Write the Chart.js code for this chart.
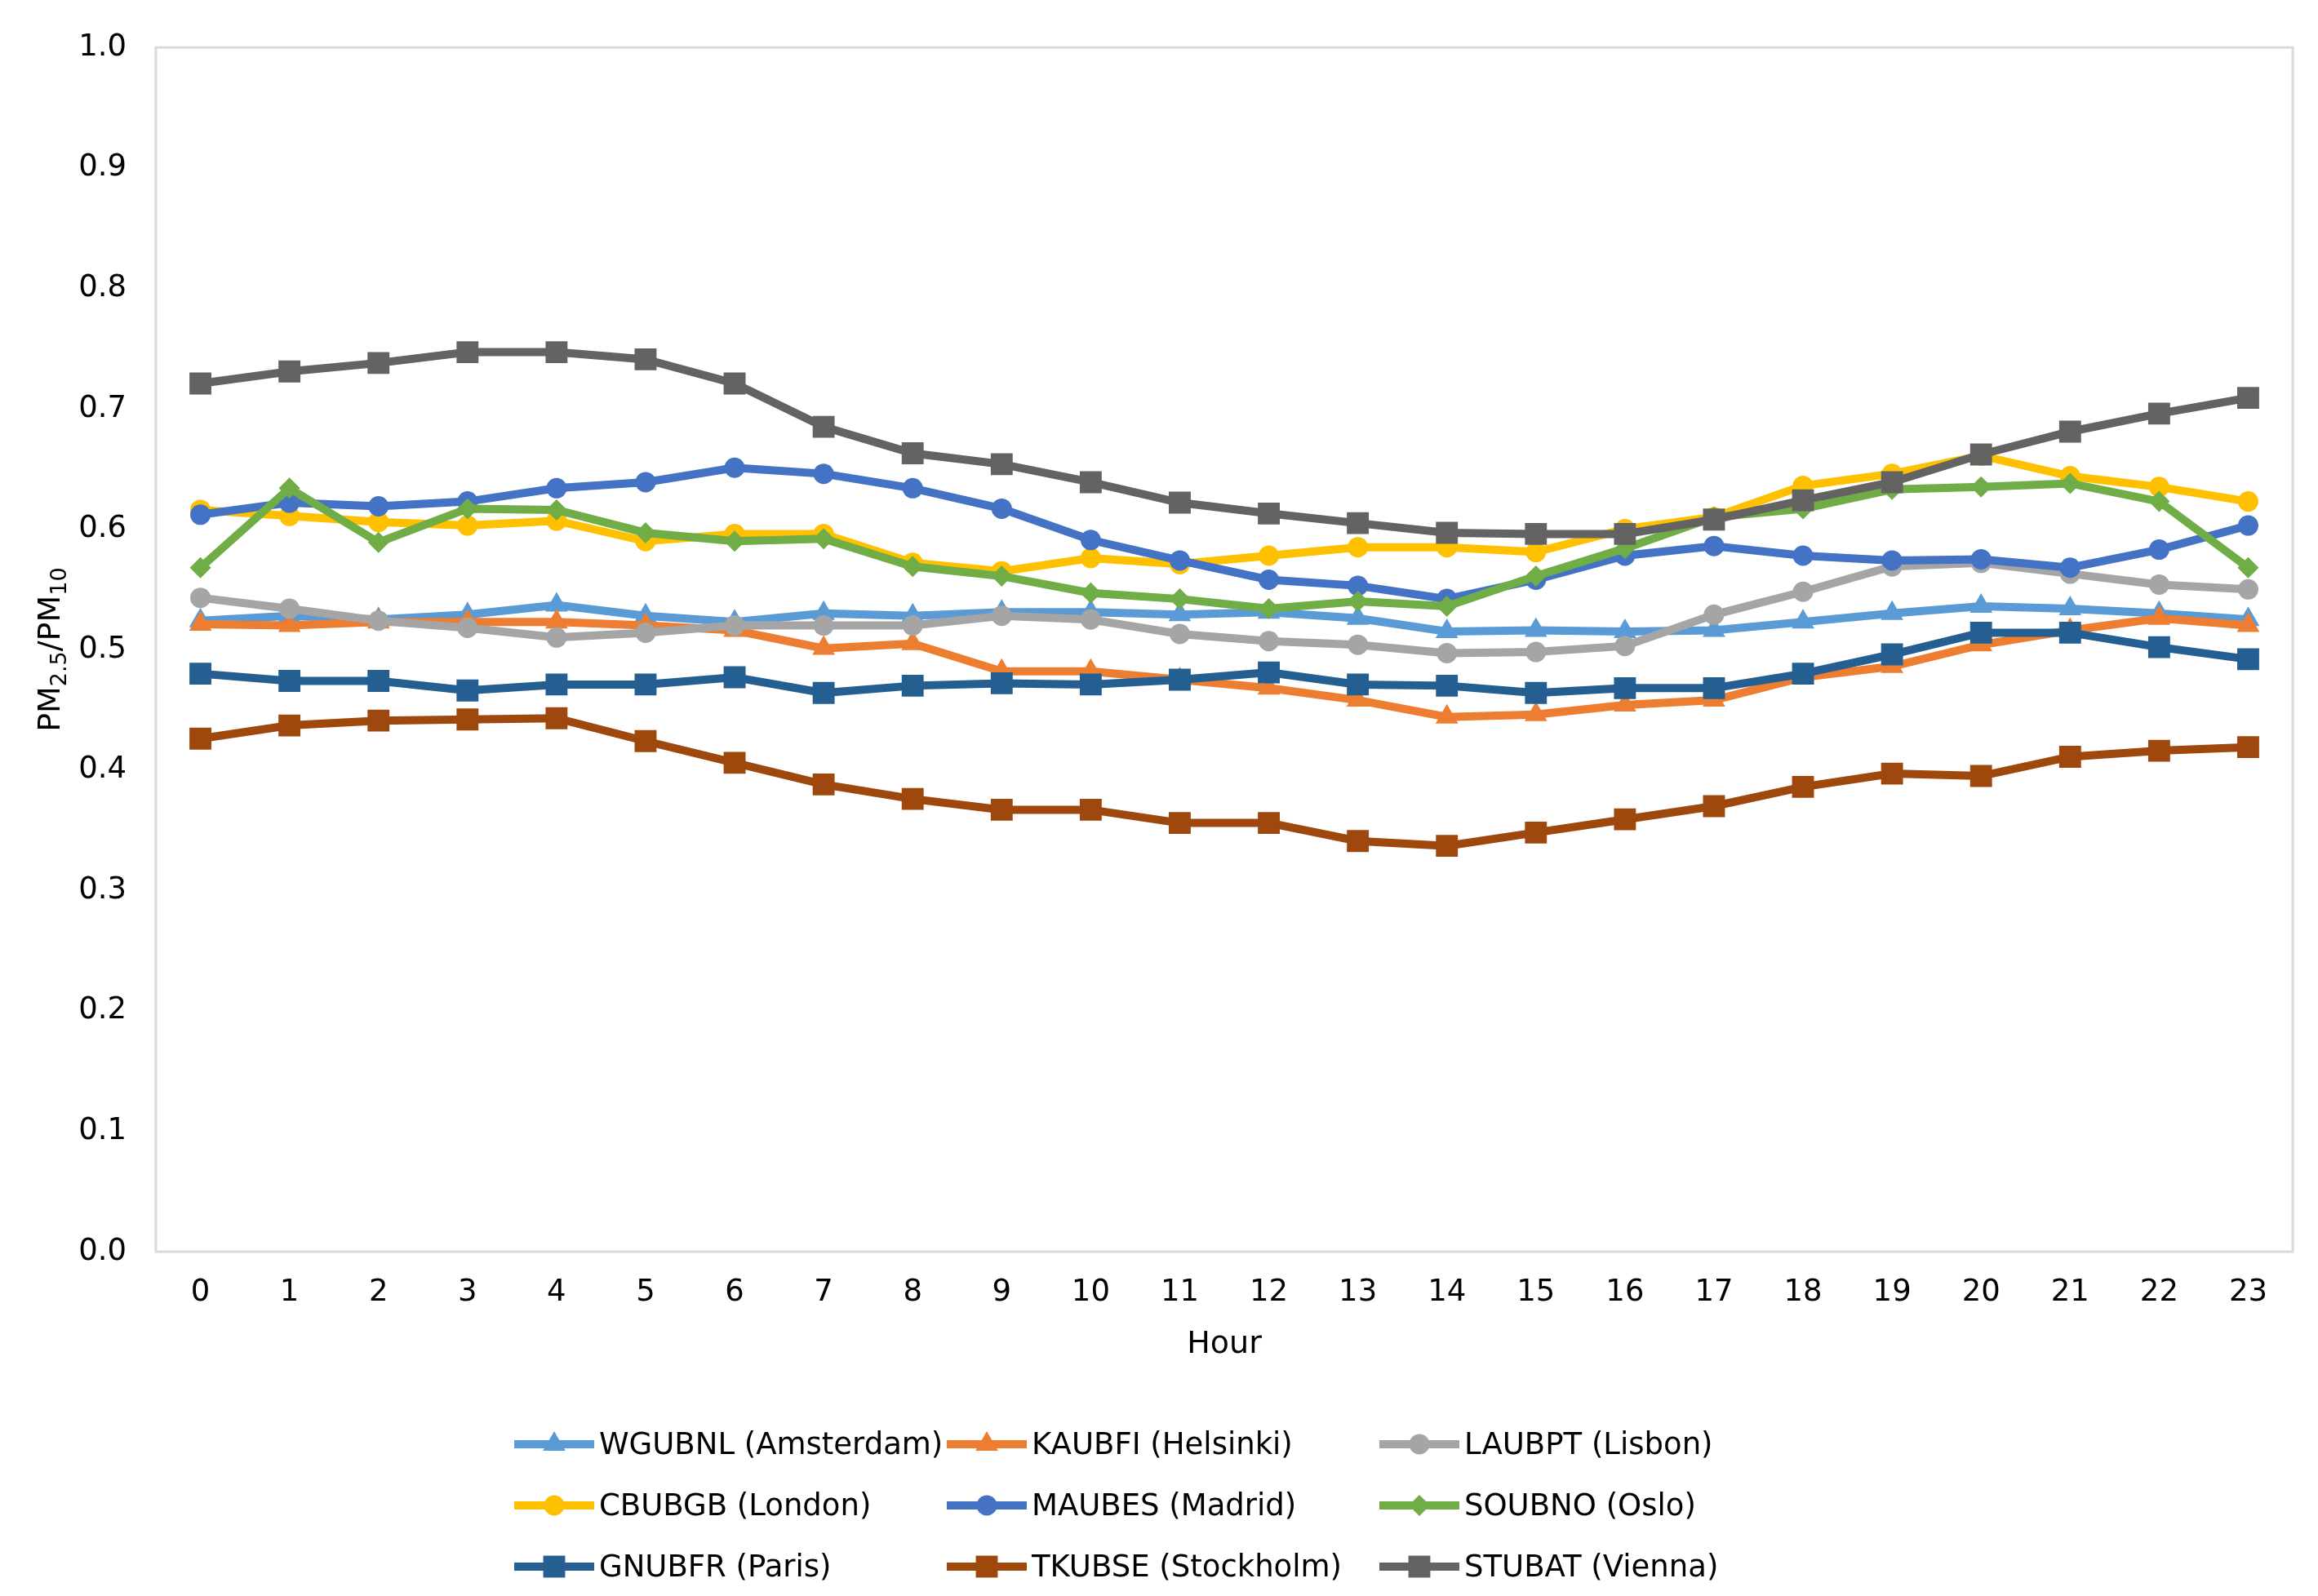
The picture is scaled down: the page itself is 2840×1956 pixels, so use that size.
<!DOCTYPE html>
<html>
<head>
<meta charset="utf-8">
<script src="https://cdn.jsdelivr.net/npm/chart.js@4.4.1/dist/chart.umd.min.js"></script>
<style>
  html, body { margin: 0; padding: 0; background: #fff; }
  canvas { display: block; }
</style>
</head>
<body>
<canvas id="myChart" width="2840" height="1956" style="width:2840px;height:1956px"></canvas>
<script>
const HOURS = ['0', '1', '2', '3', '4', '5', '6', '7', '8', '9', '10', '11', '12', '13', '14', '15', '16', '17', '18', '19', '20', '21', '22', '23'];

const AMSTERDAM = [0.524, 0.528, 0.525, 0.529, 0.537, 0.528, 0.523, 0.530, 0.528, 0.531, 0.531, 0.529, 0.531, 0.526, 0.515, 0.516, 0.515, 0.516, 0.523, 0.530, 0.536, 0.534, 0.530, 0.525];
const HELSINKI = [0.521, 0.520, 0.523, 0.523, 0.523, 0.520, 0.516, 0.501, 0.505, 0.482, 0.482, 0.475, 0.468, 0.458, 0.444, 0.446, 0.454, 0.458, 0.477, 0.486, 0.504, 0.516, 0.526, 0.520];
const LISBON = [0.543, 0.534, 0.524, 0.518, 0.510, 0.514, 0.520, 0.520, 0.520, 0.528, 0.525, 0.513, 0.507, 0.504, 0.497, 0.498, 0.503, 0.529, 0.548, 0.569, 0.572, 0.563, 0.554, 0.550];
const LONDON = [0.616, 0.611, 0.606, 0.603, 0.607, 0.590, 0.596, 0.596, 0.572, 0.565, 0.576, 0.571, 0.578, 0.585, 0.585, 0.581, 0.600, 0.610, 0.636, 0.646, 0.661, 0.644, 0.635, 0.623];
const MADRID = [0.612, 0.622, 0.619, 0.623, 0.634, 0.639, 0.651, 0.646, 0.634, 0.617, 0.591, 0.574, 0.558, 0.553, 0.542, 0.558, 0.578, 0.586, 0.578, 0.574, 0.575, 0.568, 0.583, 0.603];
const OSLO = [0.568, 0.634, 0.589, 0.617, 0.616, 0.597, 0.590, 0.592, 0.569, 0.561, 0.547, 0.542, 0.534, 0.540, 0.536, 0.561, 0.584, 0.610, 0.617, 0.633, 0.635, 0.638, 0.623, 0.568];
const PARIS = [0.480, 0.474, 0.474, 0.466, 0.471, 0.471, 0.477, 0.464, 0.470, 0.472, 0.471, 0.475, 0.481, 0.471, 0.470, 0.464, 0.468, 0.468, 0.480, 0.496, 0.514, 0.514, 0.502, 0.492];
const STOCKHOLM = [0.426, 0.437, 0.441, 0.442, 0.443, 0.424, 0.406, 0.388, 0.376, 0.367, 0.367, 0.356, 0.356, 0.341, 0.337, 0.348, 0.359, 0.370, 0.386, 0.397, 0.395, 0.411, 0.416, 0.419];
const VIENNA = [0.721, 0.731, 0.738, 0.747, 0.747, 0.741, 0.721, 0.685, 0.663, 0.654, 0.639, 0.622, 0.613, 0.605, 0.597, 0.596, 0.596, 0.608, 0.624, 0.639, 0.662, 0.681, 0.696, 0.709];

const SERIES_NAMES = ['WGUBNL (Amsterdam)', 'KAUBFI (Helsinki)', 'LAUBPT (Lisbon)', 'CBUBGB (London)', 'MAUBES (Madrid)', 'SOUBNO (Oslo)', 'GNUBFR (Paris)', 'TKUBSE (Stockholm)', 'STUBAT (Vienna)'];
const SERIES_DATA = [AMSTERDAM, HELSINKI, LISBON, LONDON, MADRID, OSLO, PARIS, STOCKHOLM, VIENNA];
const COLORS = ['#5B9BD5', '#ED7D31', '#A5A5A5', '#FFC000', '#4472C4', '#70AD47', '#255E91', '#9E480E', '#636363'];
const MARKERS = ['triangle', 'triangle', 'circle', 'circle', 'circle', 'rectRot', 'rect', 'rect', 'rect'];
const MARKER_SIZE = { triangle: 16, circle: 12.5, rectRot: 13, rect: 19 };

const FONT = 'DejaVu Sans';
const LINE_W = 10;

const datasets = SERIES_NAMES.map((name, i) => ({
    label: name,
    data: SERIES_DATA[i],
    borderColor: COLORS[i],
    backgroundColor: COLORS[i],
    borderWidth: LINE_W,
    pointStyle: MARKERS[i],
    pointRadius: MARKER_SIZE[MARKERS[i]],
    pointBorderWidth: 0,
    order: SERIES_NAMES.length - i // later series on top, like excel
}));

// plot frame
const framePlugin = {
    id: 'frame',
    beforeDatasetsDraw(chart) {
        const { ctx, chartArea: a } = chart;
        ctx.save();
        ctx.strokeStyle = '#D9D9D9';
        ctx.lineWidth = 3;
        ctx.strokeRect(a.left, a.top, a.right - a.left, a.bottom - a.top);
        ctx.restore();
    }
};

// y title with subscripts: PM2.5/PM10
const yTitlePlugin = {
    id: 'yTitle',
    afterDraw(chart) {
        const { ctx, chartArea: a } = chart;
        const parts = [['PM', false], ['2.5', true], ['/PM', false], ['10', true]];
        const big = '38px "' + FONT + '"';
        const small = '27px "' + FONT + '"';
        ctx.save();
        let total = 0;
        parts.forEach(p => { ctx.font = p[1] ? small : big; total += ctx.measureText(p[0]).width; });
        ctx.translate(63, (a.top + a.bottom) / 2);
        ctx.rotate(-Math.PI / 2);
        ctx.fillStyle = '#000';
        ctx.textBaseline = 'middle';
        let x = -total / 2;
        parts.forEach(p => {
            ctx.font = p[1] ? small : big;
            ctx.fillText(p[0], x, p[1] ? 11 : 0);
            x += ctx.measureText(p[0]).width;
        });
        ctx.restore();
    }
};

// excel style legend: line with marker, 3 columns
const legendPlugin = {
    id: 'xlLegend',
    afterDraw(chart) {
        const ctx = chart.ctx;
        ctx.save();
        chart.data.datasets.forEach((ds, i) => {
            const col = i % 3, row = Math.floor(i / 3);
            const x0 = 630 + col * 530;
            const y = 1770 + row * 75;
            ctx.strokeStyle = ds.borderColor;
            ctx.lineWidth = LINE_W;
            ctx.beginPath();
            ctx.moveTo(x0, y);
            ctx.lineTo(x0 + 98, y);
            ctx.stroke();
            ctx.fillStyle = ds.borderColor;
            Chart.helpers.drawPoint(ctx, { pointStyle: ds.pointStyle, radius: ds.pointRadius, rotation: 0, borderWidth: 0 }, x0 + 49, y);
            ctx.fillStyle = '#000';
            ctx.font = '37px "' + FONT + '"';
            ctx.textBaseline = 'middle';
            ctx.fillText(ds.label, x0 + 104, y + 2);
        });
        ctx.restore();
    }
};

const config = {
    type: 'line',
    data: { labels: HOURS, datasets: datasets },
    options: {
        responsive: false,
        devicePixelRatio: 1,
        animation: false,
        elements: {
            line: { tension: 0 }
        },
        layout: {
            padding: { left: 0, top: 46, right: 31, bottom: 252 }
        },
        scales: {
            x: {
                offset: true,
                grid: { display: false, drawTicks: false },
                border: { display: false },
                ticks: { color: '#000', font: { family: FONT, size: 37 }, padding: 28, maxRotation: 0, autoSkip: false },
                title: { display: true, text: 'Hour', color: '#000', font: { family: FONT, size: 38 }, padding: { top: 0, bottom: 33 } },
                afterFit: s => { s.height = 170; }
            },
            y: {
                min: 0,
                max: 1,
                grid: { display: false, drawTicks: false },
                border: { display: false },
                ticks: {
                    stepSize: 0.1,
                    color: '#000',
                    font: { family: FONT, size: 37 },
                    padding: 36,
                    callback: v => v.toFixed(1)
                },
                afterFit: s => { s.width = 191; }
            }
        },
        plugins: {
            legend: { display: false },
            tooltip: { enabled: false }
        }
    },
    plugins: [framePlugin, yTitlePlugin, legendPlugin]
};

const myChart = new Chart(document.getElementById('myChart'), config);
</script>
</body>
</html>
